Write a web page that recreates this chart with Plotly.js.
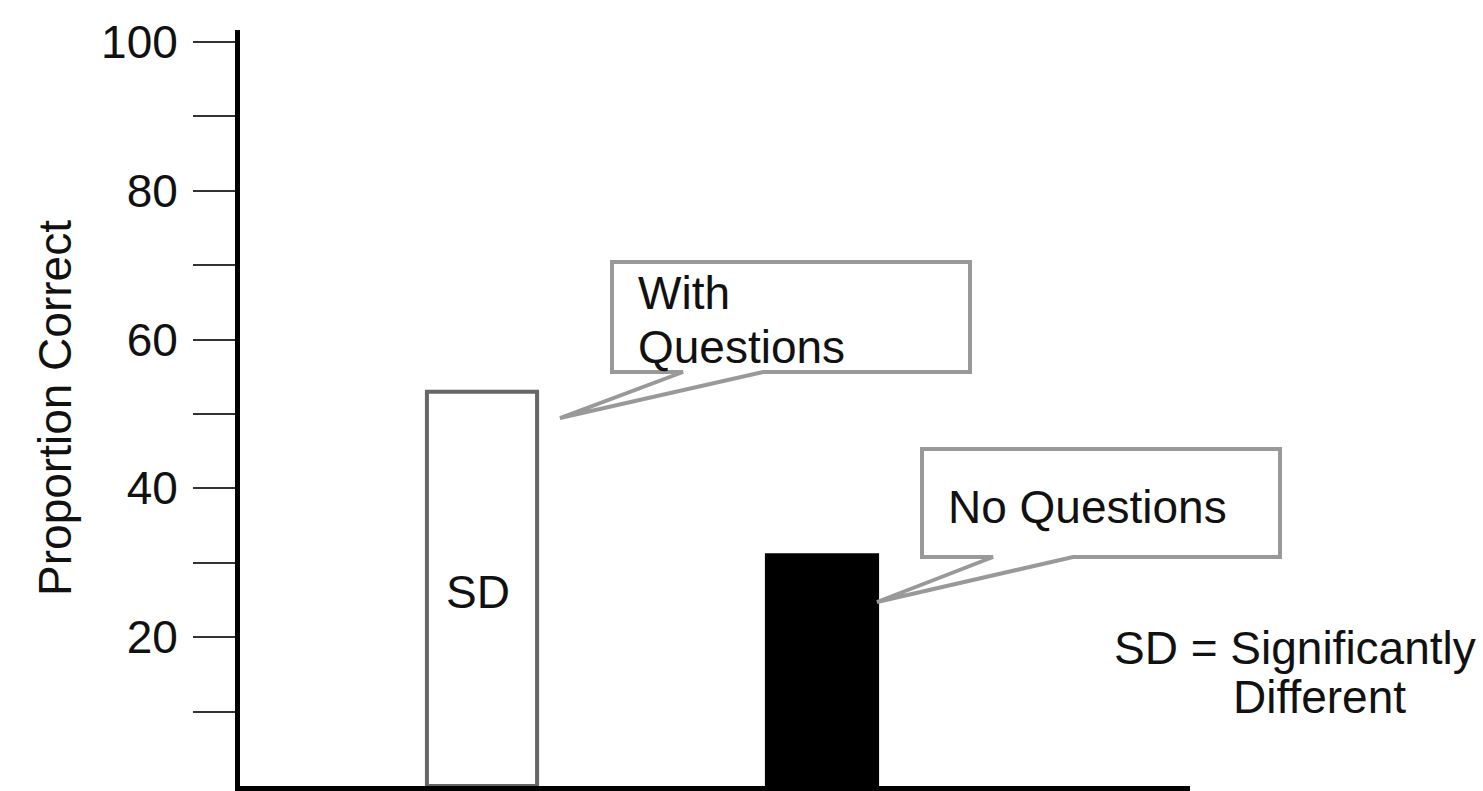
<!DOCTYPE html>
<html>
<head>
<meta charset="utf-8">
<script src="https://cdn.plot.ly/plotly-3.0.1.min.js"></script>
<style>html,body{margin:0;padding:0;background:#fff;}#chart{width:1483px;height:791px;}</style>
</head>
<body>
<div id="chart"></div>
<script>
// ---- data ----
const categories = ["With Questions", "No Questions"];
const proportionCorrect = [53, 31];
const barColors = ["#ffffff", "#000000"];
const barLineColors = ["#666666", "#000000"];
const tickValues = [10, 20, 30, 40, 50, 60, 70, 80, 90, 100];
const tickLabels = ["", "20", "", "40", "", "60", "", "80", "", "100"];
const yTitle = "Proportion Correct";
const barNote = "SD";
const legendNote = ["SD = Significantly", "Different"];

// ---- layout helpers (pixel -> paper) ----
const L = 240, R = 293, T = 30, B = 5, W = 1483, H = 791;
const PW = W - L - R, PH = H - T - B;
const px = x => (x - L) / PW;
const py = y => (H - B - y) / PH;
const FONT = "Liberation Sans, Arial, sans-serif";
const FS = 46;

function calloutPath(x0, y0, x1, y1, b1, b2, tx, ty) {
  const p = (a, b) => px(a).toFixed(5) + "," + py(b).toFixed(5);
  return "M" + p(x0, y0) + " L" + p(x1, y0) + " L" + p(x1, y1) + " L" + p(b2, y1) +
    " L" + p(tx, ty) + " L" + p(b1, y1) + " L" + p(x0, y1) + " Z";
}

const trace = {
  type: "bar",
  x: [0, 1],
  y: proportionCorrect,
  width: 0.324,
  marker: { color: barColors, line: { color: barLineColors, width: 4 } },
  hoverinfo: "skip",
  text: categories,
  textposition: "none"
};

function txt(text, x, y, xanchor) {
  return { text: text, xref: "paper", yref: "paper", x: px(x), y: py(y),
    xanchor: xanchor || "left", yanchor: "middle", showarrow: false,
    font: { family: FONT, size: FS, color: "#111" } };
}

const layout = {
  width: W, height: H,
  margin: { l: L, r: R, t: T, b: B },
  paper_bgcolor: "#fff", plot_bgcolor: "#fff",
  showlegend: false,
  xaxis: {
    range: [(L - 482) / 340, (1190 - 482) / 340],
    showgrid: false, zeroline: false, showticklabels: false, ticks: "",
    showline: true, linecolor: "#000", linewidth: 5, fixedrange: true
  },
  yaxis: {
    range: [0, 101.6],
    showgrid: false, zeroline: false,
    showline: true, linecolor: "#000", linewidth: 5,
    ticks: "outside", ticklen: 42, tickwidth: 2, tickcolor: "#333",
    tickvals: tickValues, ticktext: tickLabels,
    ticklabelstandoff: 6,
    tickfont: { family: FONT, size: FS, color: "#111" },
    title: { text: yTitle, font: { family: FONT, size: FS, color: "#111" }, standoff: 16 },
    fixedrange: true
  },
  shapes: [
    { type: "path", xref: "paper", yref: "paper",
      path: calloutPath(612, 262, 970, 372, 683, 763, 560, 418),
      fillcolor: "#fff", line: { color: "#999", width: 4 } },
    { type: "path", xref: "paper", yref: "paper",
      path: calloutPath(922, 449, 1280, 557, 993, 1073, 877, 602),
      fillcolor: "#fff", line: { color: "#999", width: 4 } }
  ],
  annotations: [
    txt("With", 636, 293),
    txt("Questions", 636, 347),
    txt("No Questions", 946, 507),
    txt(barNote, 478, 592, "center"),
    txt(legendNote[0], 1112, 648),
    txt(legendNote[1], 1231, 697)
  ]
};

Plotly.newPlot("chart", [trace], layout, { displayModeBar: false, staticPlot: true });
</script>
</body>
</html>
